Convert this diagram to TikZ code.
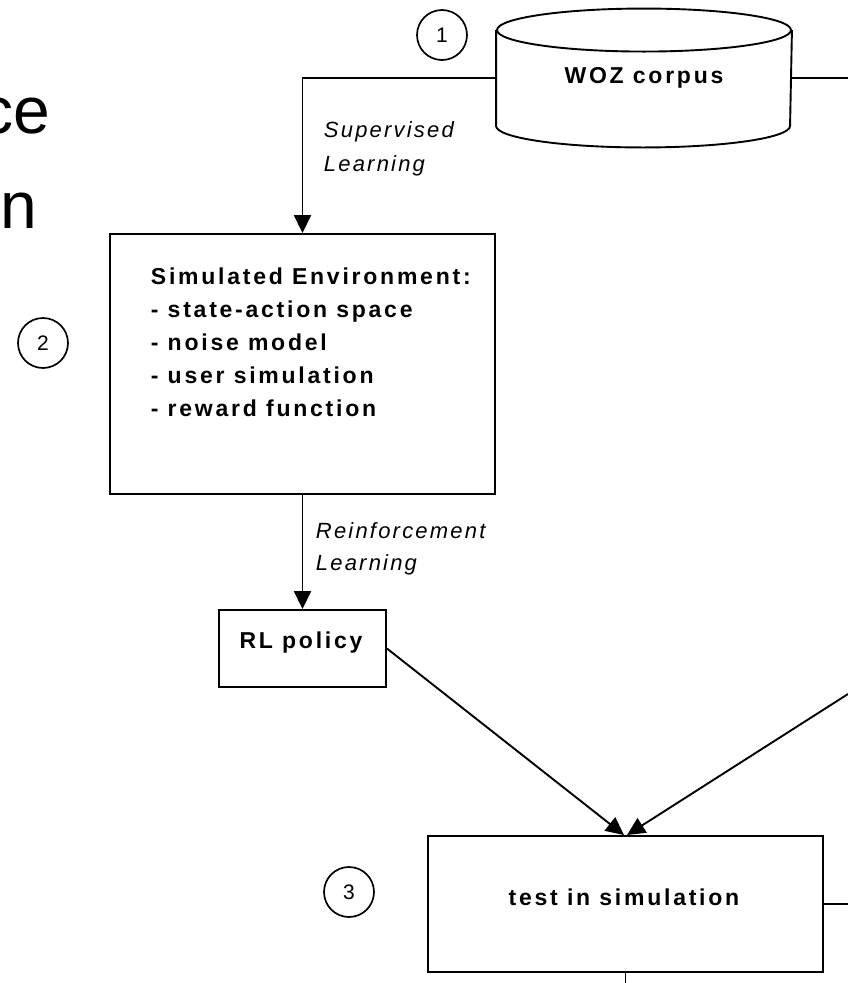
\documentclass[tikz,border=0pt]{standalone}
\usepackage{fontspec}
\setmainfont{Liberation Sans}
\newfontfamily\spaced[LetterSpace=12]{Liberation Sans}
\newfontfamily\spacedit[LetterSpace=10]{Liberation Sans}
\usetikzlibrary{arrows.meta}
\begin{document}
\begin{tikzpicture}[x=1pt,y=1pt,
  line width=1.9pt,
  tip/.style={-{Triangle[length=18pt,width=17pt]}},
  num/.style={circle,draw,line width=1.7pt,minimum size=50pt,inner sep=0pt,font=\fontsize{21}{24}\selectfont},
  boxnode/.style={draw,rectangle,inner sep=0pt},
  lbl/.style={font=\spacedit\itshape\fontsize{22}{33}\selectfont,anchor=base west,inner sep=0pt},
  btxt/.style={font=\spaced\bfseries\fontsize{23}{33}\selectfont,inner sep=0pt},
  big/.style={font=\fontsize{66}{66}\selectfont,anchor=base east,inner sep=0pt}]
\useasboundingbox (0,0) rectangle (848,-983);
\fill[white] (0,0) rectangle (848,-983);

% big cropped text at left
\node[big] (bigce) at (51,-133) {ce};
\node[big] (bign) at (38,-228) {n};

% step numbers
\node[num] (c1) at (442,-35) {1};
\node[num] (c2) at (43,-343) {2};
\node[num] (c3) at (349,-892) {3};

% WOZ corpus cylinder
\node[btxt,minimum width=294pt,minimum height=94pt] (woz) at (644,-78) {WOZ corpus};
\draw (woz.north) ellipse [x radius=147pt, y radius=21.5pt];
\draw (woz.north west) -- (woz.south west)
  arc[start angle=180,end angle=360,x radius=147pt,y radius=21.5pt] -- (woz.north east);

% simulated environment
\node[boxnode,minimum width=385pt,minimum height=260pt] (sim) at (302.5,-364) {};
\foreach \t [count=\i from 0] in {Simulated Environment:,- state-action space,- noise model,- user simulation,- reward function}
  \node[btxt,anchor=base west] (simline\i) at (150,{-284-33*\i}) {\t};

% RL policy
\node[boxnode,minimum width=167pt,minimum height=77pt] (rl) at (302.5,-648.5) {};
\node[btxt,anchor=base] (rltxt) at (301,-648) {RL policy};

% test in simulation
\node[boxnode,minimum width=395pt,minimum height=136pt] (test) at (625.5,-904) {};
\node[btxt,anchor=base] (testtxt) at (624,-905) {test in simulation};

% edge labels
\node[lbl] (sup1) at (323,-137) {Supervised};
\node[lbl] (sup2) at (323,-171) {Learning};
\node[lbl] (rein1) at (315,-538) {Reinforcement};
\node[lbl] (rein2) at (315,-570) {Learning};

% free ends
\coordinate (wozout) at (848,-78);
\coordinate (rin) at (848,-694);
\coordinate (testout) at (848,-904);
\coordinate (testdown) at (625.5,-983);

% connectors
\draw[tip] (woz.west) -| (sim.north);
\draw (woz.east) -- (wozout);
\draw[tip] (sim.south) -- (rl.north);
\draw[tip] (rl.east) -- ([xshift=-1.5pt]test.north);
\draw[tip] (rin) -- ([xshift=1.5pt]test.north);
\draw (test.east) -- (testout);
\draw (test.south) -- (testdown);
\end{tikzpicture}
\end{document}
